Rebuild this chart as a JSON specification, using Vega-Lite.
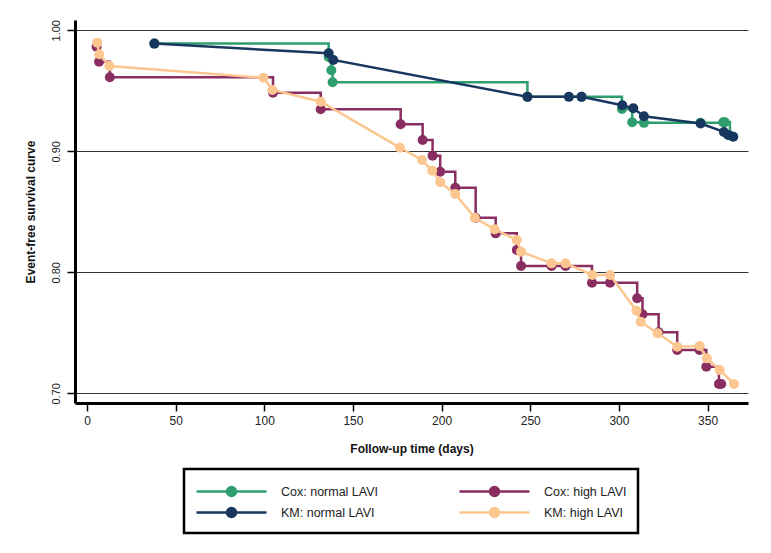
{
  "$schema": "https://vega.github.io/schema/vega-lite/v6.json",
  "width": 673,
  "height": 383,
  "autosize": "none",
  "padding": {"left": 75, "top": 20, "right": 23, "bottom": 150},
  "background": "white",
  "config": {
    "view": {"stroke": null},
    "font": "Liberation Sans, Arial, sans-serif"
  },
  "data": {
    "values": [
      {"s": "Cox: normal LAVI", "d": 38, "v": 0.989},
      {"s": "Cox: normal LAVI", "d": 136.3, "v": 0.978},
      {"s": "Cox: normal LAVI", "d": 137.8, "v": 0.967},
      {"s": "Cox: normal LAVI", "d": 138.5, "v": 0.957},
      {"s": "Cox: normal LAVI", "d": 248.4, "v": 0.945},
      {"s": "Cox: normal LAVI", "d": 278.9, "v": 0.945},
      {"s": "Cox: normal LAVI", "d": 301.7, "v": 0.935},
      {"s": "Cox: normal LAVI", "d": 307.5, "v": 0.924},
      {"s": "Cox: normal LAVI", "d": 314.1, "v": 0.9235},
      {"s": "Cox: normal LAVI", "d": 346, "v": 0.9235},
      {"s": "Cox: normal LAVI", "d": 358.8, "v": 0.924},
      {"s": "Cox: normal LAVI", "d": 359.8, "v": 0.924},
      {"s": "Cox: normal LAVI", "d": 362.6, "v": 0.913},
      {"s": "KM: normal LAVI", "d": 38, "v": 0.989},
      {"s": "KM: normal LAVI", "d": 136.3, "v": 0.981},
      {"s": "KM: normal LAVI", "d": 138.9, "v": 0.9755},
      {"s": "KM: normal LAVI", "d": 248.4, "v": 0.945},
      {"s": "KM: normal LAVI", "d": 271.8, "v": 0.945},
      {"s": "KM: normal LAVI", "d": 278.9, "v": 0.945},
      {"s": "KM: normal LAVI", "d": 301.9, "v": 0.938},
      {"s": "KM: normal LAVI", "d": 308.1, "v": 0.9355},
      {"s": "KM: normal LAVI", "d": 314.1, "v": 0.929},
      {"s": "KM: normal LAVI", "d": 346.1, "v": 0.923},
      {"s": "KM: normal LAVI", "d": 359.2, "v": 0.916},
      {"s": "KM: normal LAVI", "d": 361.6, "v": 0.9135},
      {"s": "KM: normal LAVI", "d": 364.5, "v": 0.912},
      {"s": "Cox: high LAVI", "d": 5.4, "v": 0.9864},
      {"s": "Cox: high LAVI", "d": 6.8, "v": 0.974},
      {"s": "Cox: high LAVI", "d": 12.9, "v": 0.9612},
      {"s": "Cox: high LAVI", "d": 104.9, "v": 0.9484},
      {"s": "Cox: high LAVI", "d": 131.8, "v": 0.9347},
      {"s": "Cox: high LAVI", "d": 176.9, "v": 0.9223},
      {"s": "Cox: high LAVI", "d": 189.3, "v": 0.9093},
      {"s": "Cox: high LAVI", "d": 194.9, "v": 0.8964},
      {"s": "Cox: high LAVI", "d": 199.2, "v": 0.8831},
      {"s": "Cox: high LAVI", "d": 207.7, "v": 0.8699},
      {"s": "Cox: high LAVI", "d": 219.2, "v": 0.8451},
      {"s": "Cox: high LAVI", "d": 230.5, "v": 0.8322},
      {"s": "Cox: high LAVI", "d": 242.4, "v": 0.8184},
      {"s": "Cox: high LAVI", "d": 244.8, "v": 0.8052},
      {"s": "Cox: high LAVI", "d": 262, "v": 0.8052},
      {"s": "Cox: high LAVI", "d": 269.9, "v": 0.8052},
      {"s": "Cox: high LAVI", "d": 284.8, "v": 0.7914},
      {"s": "Cox: high LAVI", "d": 295, "v": 0.7914},
      {"s": "Cox: high LAVI", "d": 310.3, "v": 0.7785},
      {"s": "Cox: high LAVI", "d": 313.3, "v": 0.7653},
      {"s": "Cox: high LAVI", "d": 322.4, "v": 0.7505},
      {"s": "Cox: high LAVI", "d": 332.9, "v": 0.7358},
      {"s": "Cox: high LAVI", "d": 345.5, "v": 0.7358},
      {"s": "Cox: high LAVI", "d": 349.3, "v": 0.722},
      {"s": "Cox: high LAVI", "d": 356.4, "v": 0.7077},
      {"s": "Cox: high LAVI", "d": 357.7, "v": 0.7077},
      {"s": "KM: high LAVI", "d": 5.8, "v": 0.9898},
      {"s": "KM: high LAVI", "d": 6.9, "v": 0.9802},
      {"s": "KM: high LAVI", "d": 12.6, "v": 0.9705},
      {"s": "KM: high LAVI", "d": 99.6, "v": 0.9608},
      {"s": "KM: high LAVI", "d": 104.5, "v": 0.9507},
      {"s": "KM: high LAVI", "d": 131.8, "v": 0.941},
      {"s": "KM: high LAVI", "d": 176.5, "v": 0.903},
      {"s": "KM: high LAVI", "d": 188.9, "v": 0.8928},
      {"s": "KM: high LAVI", "d": 194.7, "v": 0.884},
      {"s": "KM: high LAVI", "d": 199.2, "v": 0.8744},
      {"s": "KM: high LAVI", "d": 207.7, "v": 0.8647},
      {"s": "KM: high LAVI", "d": 218.7, "v": 0.8451},
      {"s": "KM: high LAVI", "d": 229.9, "v": 0.8355},
      {"s": "KM: high LAVI", "d": 242.4, "v": 0.8267},
      {"s": "KM: high LAVI", "d": 244.8, "v": 0.817},
      {"s": "KM: high LAVI", "d": 262, "v": 0.8074},
      {"s": "KM: high LAVI", "d": 269.9, "v": 0.8074},
      {"s": "KM: high LAVI", "d": 285, "v": 0.7978},
      {"s": "KM: high LAVI", "d": 295, "v": 0.7978},
      {"s": "KM: high LAVI", "d": 309.9, "v": 0.7683},
      {"s": "KM: high LAVI", "d": 312.3, "v": 0.7592},
      {"s": "KM: high LAVI", "d": 321.8, "v": 0.7496},
      {"s": "KM: high LAVI", "d": 332.9, "v": 0.7385},
      {"s": "KM: high LAVI", "d": 345.5, "v": 0.7391},
      {"s": "KM: high LAVI", "d": 349.6, "v": 0.7289},
      {"s": "KM: high LAVI", "d": 356.8, "v": 0.7193},
      {"s": "KM: high LAVI", "d": 364.9, "v": 0.7077}
    ]
  },
  "encoding": {
    "x": {
      "field": "d",
      "type": "quantitative",
      "scale": {"domain": [-6.77, 372.8], "nice": false, "zero": false},
      "axis": {
        "title": "Follow-up time (days)",
        "values": [0, 50, 100, 150, 200, 250, 300, 350],
        "grid": false,
        "domainColor": "black",
        "domainWidth": 3,
        "tickColor": "black",
        "tickWidth": 1.5,
        "tickSize": 8,
        "labelFontSize": 12,
        "labelColor": "#222",
        "labelPadding": 4,
        "titleFontSize": 12,
        "titleFontWeight": "bold",
        "titleColor": "#111",
        "titlePadding": 17
      }
    },
    "y": {
      "field": "v",
      "type": "quantitative",
      "scale": {"domain": [0.692, 1.0085], "nice": false, "zero": false},
      "axis": {
        "title": "Event-free survival curve",
        "values": [0.7, 0.8, 0.9, 1.0],
        "format": ".2f",
        "grid": true,
        "gridColor": "#333",
        "gridWidth": 1,
        "gridOpacity": 1,
        "domainColor": "black",
        "domainWidth": 3,
        "tickColor": "black",
        "tickWidth": 1.5,
        "tickSize": 8,
        "labelAngle": -90,
        "labelAlign": "center",
        "labelBaseline": "bottom",
        "labelFontSize": 11,
        "labelColor": "#222",
        "labelPadding": 6,
        "titleFontSize": 12,
        "titleFontWeight": "bold",
        "titleColor": "#111",
        "titlePadding": 13
      }
    },
    "color": {
      "field": "s",
      "type": "nominal",
      "scale": {
        "domain": ["Cox: normal LAVI", "KM: normal LAVI", "Cox: high LAVI", "KM: high LAVI"],
        "range": ["#2f9e6f", "#17375f", "#8a2e62", "#fcc690"]
      },
      "legend": {
        "title": null,
        "orient": "none",
        "legendX": 109,
        "legendY": 449,
        "columns": 2,
        "columnPadding": 75,
        "rowPadding": 0,
        "padding": 11,
        "strokeColor": "black",
        "symbolType": "M-1,0H6M2.05,0A0.45,0.45 0 1,1 2.95,0A0.45,0.45 0 1,1 2.05,0",
        "symbolSize": 400,
        "symbolStrokeWidth": 2.5,
        "labelOffset": 63,
        "labelFontSize": 12.5,
        "labelColor": "#222",
        "labelBaseline": "middle",
        "encode": {
          "legend": {"update": {"strokeWidth": {"value": 2.5}, "stroke": {"value": "black"}}},
          "symbols": {
            "update": {
              "fill": {"scale": "color", "field": "value"},
              "stroke": {"scale": "color", "field": "value"},
              "strokeWidth": {"value": 2.5},
              "opacity": {"value": 1},
              "fillOpacity": {"value": 1}
            }
          }
        }
      }
    }
  },
  "layer": [
    {
      "transform": [{"filter": "indexof(datum.s, 'Cox') === 0"}],
      "mark": {
        "type": "line",
        "interpolate": "step-after",
        "strokeWidth": 2.5,
        "point": {"filled": true, "size": 100, "opacity": 1}
      }
    },
    {
      "transform": [{"filter": "indexof(datum.s, 'KM') === 0"}],
      "mark": {
        "type": "line",
        "interpolate": "linear",
        "strokeWidth": 2.5,
        "point": {"filled": true, "size": 100, "opacity": 1}
      }
    }
  ]
}
